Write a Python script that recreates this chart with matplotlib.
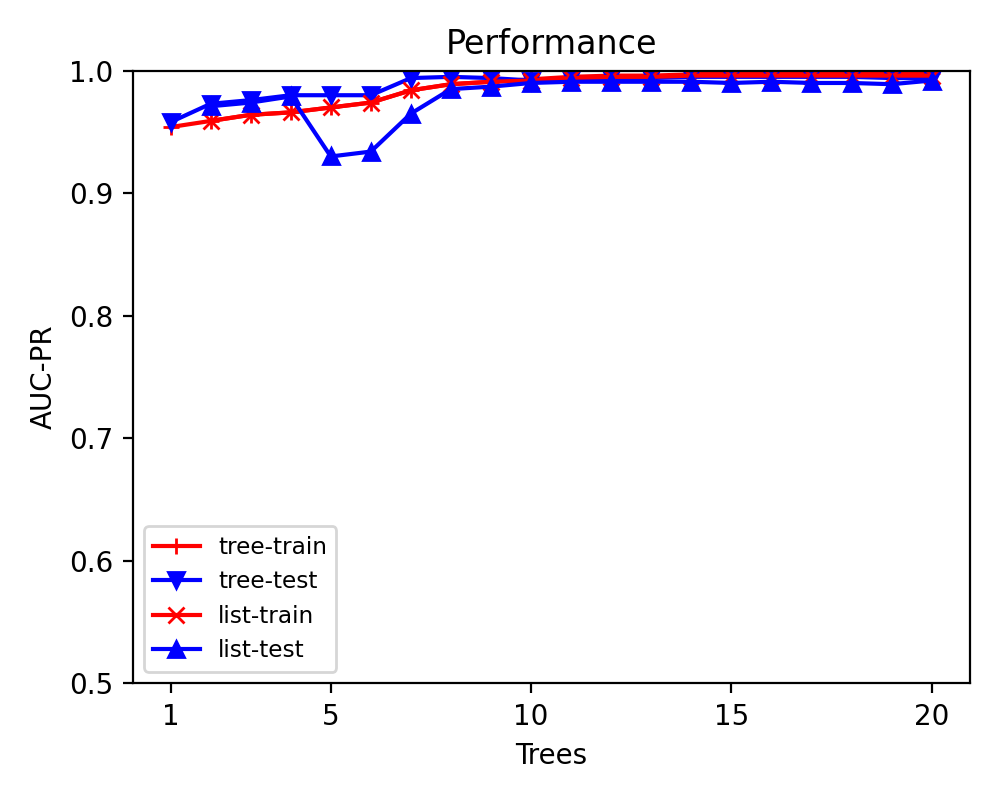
import matplotlib
matplotlib.use("Agg")
import matplotlib.pyplot as plt

# number of trees
trees = list(range(1, 21))
lists = list(range(2, 21))

tree_train = [0.954, 0.959, 0.964, 0.966, 0.970, 0.974, 0.984, 0.989, 0.991, 0.993,
              0.995, 0.996, 0.996, 0.997, 0.998, 0.998, 0.998, 0.998, 0.998, 0.998]
tree_test = [0.958, 0.973, 0.976, 0.980, 0.980, 0.980, 0.994, 0.995, 0.994, 0.992,
             0.993, 0.994, 0.994, 0.995, 0.995, 0.995, 0.995, 0.995, 0.994, 0.994]
list_train = [0.959, 0.964, 0.966, 0.970, 0.974, 0.984, 0.989, 0.991, 0.992,
              0.994, 0.995, 0.995, 0.996, 0.996, 0.996, 0.996, 0.996, 0.996, 0.996]
list_test = [0.971, 0.974, 0.979, 0.930, 0.934, 0.965, 0.985, 0.987, 0.990,
             0.991, 0.991, 0.991, 0.991, 0.990, 0.991, 0.990, 0.990, 0.989, 0.992]

fig = plt.figure(figsize=(5, 4), dpi=200)
ax = fig.add_subplot(111)

ax.plot(trees, tree_train, color='red', marker='+', label='tree-train')
ax.plot(trees, tree_test, color='blue', marker='v', label='tree-test')
ax.plot(lists, list_train, color='red', marker='x', label='list-train')
ax.plot(lists, list_test, color='blue', marker='^', label='list-test')

ax.set_title("Performance")
ax.set_xlabel("Trees")
ax.set_ylabel("AUC-PR")
ax.set_ylim(0.5, 1.0)
ax.set_xticks([1, 5, 10, 15, 20])
ax.legend(loc='lower left', fontsize='small')

fig.subplots_adjust(left=0.1325, right=0.9697, bottom=0.146, top=0.9116)
fig.savefig("out.png")
